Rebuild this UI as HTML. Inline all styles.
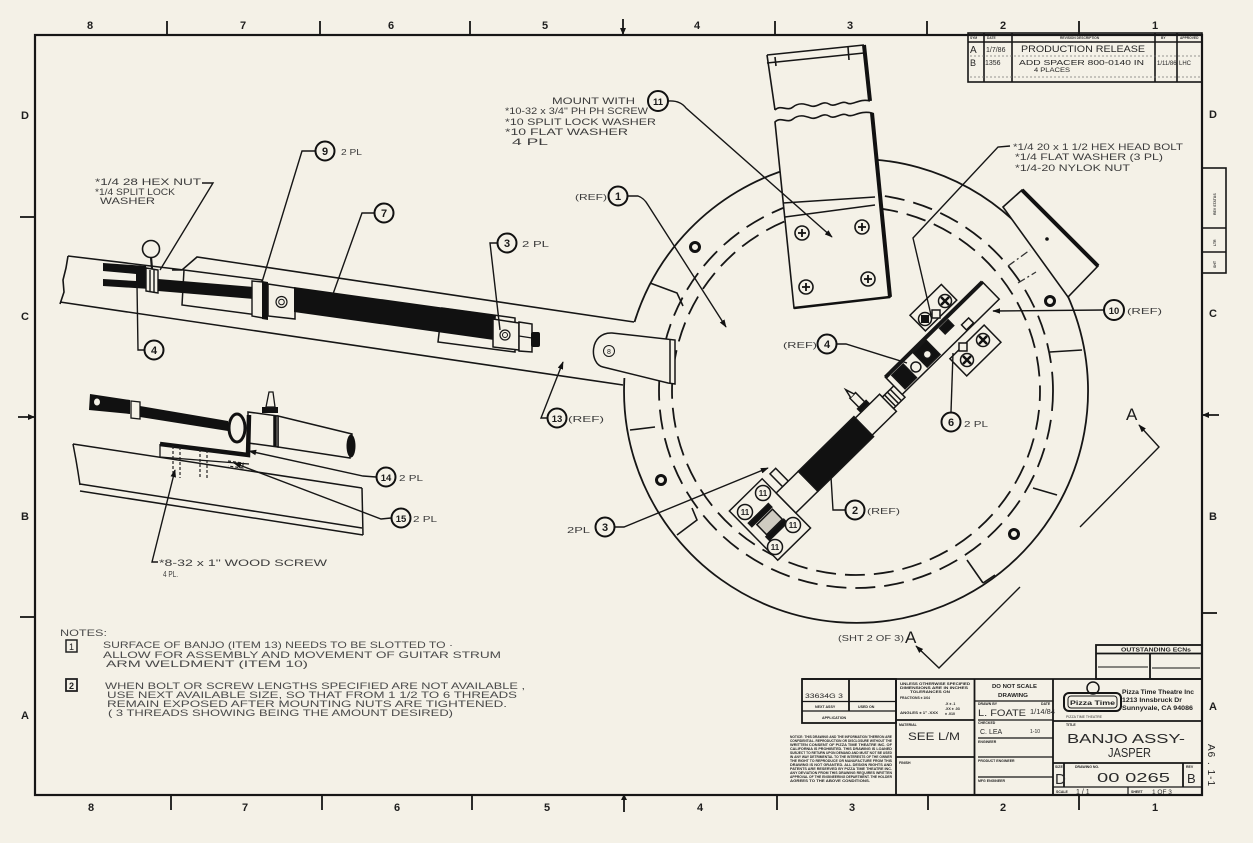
<!DOCTYPE html>
<html><head><meta charset="utf-8">
<style>
html,body{margin:0;padding:0;background:#f4f1e7;}
svg{display:block;}
text{font-family:"Liberation Sans",sans-serif;}
</style></head><body>
<svg width="1253" height="843" viewBox="0 0 1253 843" xmlns="http://www.w3.org/2000/svg">
<defs>
<marker id="ar" viewBox="0 0 10 10" refX="9" refY="5" markerUnits="userSpaceOnUse" markerWidth="8" markerHeight="8" orient="auto"><path d="M0,1.5 L10,5 L0,8.5 z" fill="#111"/></marker>
</defs>
<rect width="1253" height="843" fill="#f4f1e7"/>

<!-- border -->
<rect x="35" y="35" width="1167" height="760" fill="none" stroke="#161616" stroke-width="2.2"/>
<g stroke="#161616" stroke-width="1.8">
<line x1="167" y1="21" x2="167" y2="35"/><line x1="320" y1="21" x2="320" y2="35"/><line x1="470" y1="21" x2="470" y2="35"/>
<line x1="623" y1="19" x2="623" y2="35"/><line x1="775" y1="21" x2="775" y2="35"/><line x1="927" y1="21" x2="927" y2="35"/><line x1="1079" y1="21" x2="1079" y2="35"/>
<line x1="171" y1="795" x2="171" y2="810"/><line x1="322" y1="795" x2="322" y2="810"/><line x1="472" y1="795" x2="472" y2="810"/>
<line x1="624" y1="795" x2="624" y2="812"/><line x1="777" y1="795" x2="777" y2="810"/><line x1="928" y1="795" x2="928" y2="810"/><line x1="1079" y1="795" x2="1079" y2="810"/>
<line x1="20" y1="217" x2="35" y2="217"/><line x1="18" y1="417" x2="35" y2="417"/><line x1="20" y1="617" x2="35" y2="617"/>
<line x1="1202" y1="415" x2="1219" y2="415"/><line x1="1202" y1="613" x2="1217" y2="613"/>
</g>
<g fill="#161616">
<path d="M620,28 L626,28 L623,35 z"/><path d="M621,800 L627,800 L624,794 z"/>
<path d="M28,414 L35,417 L28,420 z"/><path d="M1209,412 L1202,415 L1209,418 z"/>
</g>
<g font-size="11" font-weight="bold" fill="#1e1e1e" text-anchor="middle">
<text x="90" y="29">8</text><text x="243" y="29">7</text><text x="391" y="29">6</text><text x="545" y="29">5</text>
<text x="697" y="29">4</text><text x="850" y="29">3</text><text x="1003" y="29">2</text><text x="1155" y="29">1</text>
<text x="91" y="811">8</text><text x="245" y="811">7</text><text x="397" y="811">6</text><text x="547" y="811">5</text>
<text x="700" y="811">4</text><text x="852" y="811">3</text><text x="1003" y="811">2</text><text x="1155" y="811">1</text>
<text x="25" y="119">D</text><text x="25" y="320">C</text><text x="25" y="520">B</text><text x="25" y="719">A</text>
<text x="1213" y="118">D</text><text x="1213" y="317">C</text><text x="1213" y="520">B</text><text x="1213" y="710">A</text>
</g>

<!-- right side small box -->
<g stroke="#161616" stroke-width="1.6" fill="none">
<rect x="1202" y="168" width="24" height="105"/>
<line x1="1202" y1="228" x2="1226" y2="228"/><line x1="1202" y1="252" x2="1226" y2="252"/>
</g>
<g font-size="3.5" font-weight="bold" fill="#333">
<text transform="translate(1216,215) rotate(-90)">REV STATUS</text>
<text transform="translate(1216,246) rotate(-90)">LTR</text>
<text transform="translate(1216,268) rotate(-90)">SHT</text>
</g>
<text transform="translate(1208,744) rotate(90)" font-size="10" fill="#222" letter-spacing="1">A6 . 1-1</text>

<!-- revision block -->
<g stroke="#161616" stroke-width="1.6" fill="none">
<rect x="968" y="33" width="234" height="49"/>
<line x1="968" y1="42" x2="1202" y2="42"/>
<line x1="984" y1="33" x2="984" y2="82"/><line x1="1012" y1="33" x2="1012" y2="82"/>
<line x1="1155" y1="33" x2="1155" y2="82"/><line x1="1177" y1="33" x2="1177" y2="82"/>
</g>
<g stroke="#777" stroke-width="0.7" stroke-dasharray="2 2">
<line x1="970" y1="56" x2="1200" y2="56"/><line x1="970" y1="77" x2="1200" y2="77"/>
</g>
<g font-size="3.3" font-weight="bold" fill="#333">
<text x="970" y="39">SYM</text><text x="987" y="39">DATE</text><text x="1060" y="39">REVISION DESCRIPTION</text><text x="1161" y="39">BY</text><text x="1180" y="39">APPROVED</text>
</g>
<g fill="#262626">
<text x="970" y="53" font-size="10">A</text>
<text x="986" y="52" font-size="7">1/7/86</text>
<text x="1021" y="52" font-size="9.5" textLength="124" lengthAdjust="spacingAndGlyphs">PRODUCTION RELEASE</text>
<text x="970" y="66" font-size="9">B</text>
<text x="985" y="65" font-size="7">1356</text>
<text x="1019" y="65" font-size="7.5" textLength="125" lengthAdjust="spacingAndGlyphs">ADD SPACER 800-0140 IN</text>
<text x="1034" y="72" font-size="6" textLength="36" lengthAdjust="spacingAndGlyphs">4 PLACES</text>
<text x="1157" y="65" font-size="6">1/11/86</text>
<text x="1179" y="65" font-size="6">LHC</text>
</g>

<!-- ================= UPPER LEFT ARM ASSEMBLY ================= -->
<g stroke="#161616" stroke-width="1.6" fill="none">
<path d="M68,256 L184,270"/>
<path d="M172,270 L182,270 L197,257 L634,322"/>
<path d="M68,256 L66,268 L63,280 L64,292 L60,304"/>
<path d="M60,302 L623,385"/>
</g>
<line x1="151" y1="257" x2="152" y2="269" stroke="#161616" stroke-width="2.2"/>
<circle cx="151" cy="249" r="8.5" fill="#f4f1e7" stroke="#161616" stroke-width="1.6"/>
<path d="M103,263 L146,266 L150,289 L103,286 L103,279 L136,281 L136,274 L103,271 Z" fill="#111"/>
<path d="M146,268 L158,270 L158,293 L146,291 Z" fill="#f4f1e7" stroke="#161616" stroke-width="1.4"/>
<line x1="150" y1="270" x2="150" y2="291" stroke="#161616" stroke-width="1.4"/>
<line x1="154" y1="270" x2="154" y2="292" stroke="#161616" stroke-width="1.4"/>
<path d="M184,270 L262,280 L258,315 L182,305 Z" fill="#f4f1e7" stroke="#161616" stroke-width="1.5"/>
<path d="M158,279 L254,287 L254,299 L158,291 Z" fill="#111"/>
<path d="M252,281 L263,282 L263,318 L252,316 Z" fill="#f4f1e7" stroke="#161616" stroke-width="1.4"/>
<path d="M262,281 L268,282 L268,320 L262,319 Z" fill="#111"/>
<path d="M268,284 L295,288 L295,319 L268,316 Z" fill="#f4f1e7" stroke="#161616" stroke-width="1.5"/>
<circle cx="281.5" cy="302" r="5.5" fill="none" stroke="#161616" stroke-width="1.2"/>
<circle cx="281.5" cy="302" r="2.8" fill="none" stroke="#161616" stroke-width="1"/>
<path d="M442,308 L515,318 L515,352 L438,342 Z" fill="#f4f1e7" stroke="#161616" stroke-width="1.5"/>
<path d="M294,287 L496,315 L494,340 L294,312 Z" fill="#111"/>
<path d="M493,319 L519,323 L519,350 L493,347 Z" fill="#f4f1e7" stroke="#161616" stroke-width="1.5"/>
<circle cx="505" cy="335" r="5" fill="none" stroke="#161616" stroke-width="1.2"/>
<circle cx="505" cy="335" r="2.5" fill="none" stroke="#161616" stroke-width="1"/>
<path d="M519,322 L532,324 L532,352 L519,351 Z" fill="#f4f1e7" stroke="#161616" stroke-width="1.5"/>
<line x1="519" y1="336" x2="532" y2="338" stroke="#161616" stroke-width="1.2"/>
<rect x="531" y="332" width="9" height="15" rx="2" fill="#111"/>

<!-- ================= LOWER LEFT VIEW ================= -->
<g stroke="#161616" stroke-width="1.5" fill="none">
<path d="M73,444 L362,488"/>
<path d="M73,444 L76,460 L78,472 L80,485"/>
<path d="M80,484 L362,528"/>
<path d="M80,491 L363,535"/>
<path d="M362,488 L363,535"/>
</g>
<path d="M90,394 L130,400 L130,414 L89,410 Z" fill="#111"/>
<ellipse cx="97" cy="402" rx="3" ry="3.5" fill="#f4f1e7"/>
<path d="M131,401 L140,402 L140,419 L131,418 Z" fill="#f4f1e7" stroke="#161616" stroke-width="1.3"/>
<path d="M140,406 L228,421 L228,431 L140,417 Z" fill="#111"/>
<path d="M278,416 L352,434 L350,458 L278,447 Z" fill="#f4f1e7" stroke="#161616" stroke-width="1.5"/>
<ellipse cx="351" cy="446" rx="4.5" ry="11.5" fill="#111"/>
<path d="M248,412 L278,416 L278,447 L248,443 Z" fill="#f4f1e7" stroke="#161616" stroke-width="1.5"/>
<line x1="275" y1="416" x2="275" y2="446" stroke="#111" stroke-width="3.5"/>
<ellipse cx="237" cy="428" rx="8" ry="14" fill="#f4f1e7" stroke="#111" stroke-width="3"/>
<rect x="262" y="407" width="16" height="6" fill="#111"/>
<path d="M266,407 L269,392 L273,392 L275,407 Z" fill="#f4f1e7" stroke="#161616" stroke-width="1.3"/>
<path d="M160,444 L160,457 L249,464" stroke="#161616" stroke-width="1.3" fill="none"/>
<path d="M160,444 L248,455 L249,415" stroke="#111" stroke-width="4.5" fill="none"/>
<g stroke="#222" stroke-width="1.2" stroke-dasharray="3 2" fill="none">
<path d="M173,446 L173,477 M180,447 L180,478"/>
<path d="M200,449 L200,479 M207,450 L207,480"/>
<path d="M228,461 L243,463 L243,468 L228,466"/>
</g>

<!-- ================= RING ================= -->
<path d="M634.5,322 A232,232 0 1 1 624.4,378" fill="none" stroke="#161616" stroke-width="1.8"/>
<circle cx="856" cy="391" r="197" fill="none" stroke="#161616" stroke-width="1.8" stroke-dasharray="20 9"/>
<circle cx="856" cy="391" r="184" fill="none" stroke="#161616" stroke-width="1.8" stroke-dasharray="20 9" stroke-dashoffset="10"/>
<g stroke="#161616" stroke-width="1.6" fill="none">
<path d="M650,283 L677,293 L683,306"/>
<path d="M630,430 L655,427"/>
<path d="M677,535 L697,520 L692,508"/>
<path d="M967,560 L983,583"/>
<path d="M983,583 L995,575"/>
<path d="M1033,488 L1057,495"/>
<path d="M1050,352 L1082,350"/>
</g>
<g fill="none" stroke="#111" stroke-width="3">
<circle cx="695" cy="247" r="4.5"/><circle cx="661" cy="480" r="4.5"/>
<circle cx="1014" cy="534" r="4.5"/><circle cx="1050" cy="301" r="4.5"/>
</g>

<!-- neck end / tab -->
<path d="M612,333 L675,340 L675,384 L668,383 L603,367 C589,364 589,332 612,333 Z" fill="#f4f1e7" stroke="#161616" stroke-width="1.5"/>
<line x1="670" y1="339" x2="670" y2="383" stroke="#161616" stroke-width="1.5"/>
<circle cx="609" cy="351" r="5.5" fill="none" stroke="#161616" stroke-width="1"/>
<text x="609" y="354" font-size="7" text-anchor="middle" fill="#222">8</text>

<!-- top bracket (plate) -->
<g stroke="#161616" stroke-width="1.6" fill="none">
<path d="M767,55 L864,45"/>
<path d="M767,63 L864,53"/>
<path d="M767,55 L775,110"/>
<path d="M775,110 C781,104 787,112 793,107 S805,104 811,106 S823,100 829,104 S841,100 847,103 S859,98 870,101"/>
<line x1="775" y1="57" x2="776" y2="66"/><line x1="848" y1="47" x2="849" y2="60"/>
</g>
<line x1="864" y1="45" x2="870" y2="101" stroke="#111" stroke-width="4"/>
<path d="M775,122 C781,116 787,124 793,119 S805,116 811,118 S823,112 829,116 S841,112 847,115 S859,110 872,113 L890,297 L794,308 Z" fill="#f4f1e7" stroke="#161616" stroke-width="1.6"/>
<line x1="872" y1="113" x2="890" y2="297" stroke="#111" stroke-width="4"/>
<line x1="794" y1="308" x2="890" y2="297" stroke="#111" stroke-width="2.5"/>
<line x1="783" y1="203" x2="875" y2="197" stroke="#161616" stroke-width="1.6"/>
<line x1="785" y1="217" x2="875" y2="205" stroke="#161616" stroke-width="1.6"/>
<g fill="#f4f1e7" stroke="#161616" stroke-width="1.6">
<circle cx="802" cy="233" r="7"/><circle cx="862" cy="227" r="7"/><circle cx="806" cy="287" r="7"/><circle cx="868" cy="279" r="7"/>
</g>
<g stroke="#111" stroke-width="1.8">
<path d="M802,229 V237 M798,233 H806"/><path d="M862,223 V231 M858,227 H866"/>
<path d="M806,283 V291 M802,287 H810"/><path d="M868,275 V283 M864,279 H872"/>
</g>

<!-- top-right flap -->
<path d="M1003,207 L1022,190 L1098,266 L1068,297 Z" fill="#f4f1e7" stroke="#161616" stroke-width="1.6"/>
<line x1="1022" y1="190" x2="1098" y2="266" stroke="#111" stroke-width="4"/>
<g stroke="#333" stroke-width="1.3" stroke-dasharray="8 3 2 3" fill="none">
<path d="M1008,266 L1030,250"/><path d="M1018,283 L1036,272"/>
</g>
<circle cx="1047" cy="239" r="1.8" fill="#111"/>

<!-- ================= STRUM ASSEMBLY ================= -->
<g transform="translate(786,503) rotate(-44.5)" stroke="#161616" stroke-width="1.5">
<rect x="-46" y="-34" width="46" height="69" fill="#f4f1e7"/>
<rect x="-36" y="-5" width="22" height="14" fill="#cfcbc1"/>
<rect x="-41" y="-12" width="28" height="5" fill="#111"/>
<rect x="-38" y="10" width="25" height="5" fill="#111"/>
<rect x="9" y="-32" width="8" height="18" fill="#f4f1e7"/>
<rect x="0" y="-14" width="31" height="28" fill="#f4f1e7"/>
<rect x="31" y="-14" width="78" height="28" fill="#111"/>
<rect x="119" y="-30" width="8" height="16" fill="#f4f1e7"/>
<path d="M120,-30 L122,-39 L125,-30" fill="#f4f1e7"/>
<rect x="117" y="-17" width="12" height="4" fill="#111"/>
<rect x="109" y="-12" width="34" height="24" fill="#f4f1e7"/>
<rect x="143" y="-8" width="16" height="16" fill="#f4f1e7"/>
<path d="M146,-8 V8 M150,-8 V8 M154,-8 V8" fill="none"/>
<rect x="220" y="-47" width="44" height="22" fill="#f4f1e7"/>
<rect x="218" y="12" width="48" height="24" fill="#f4f1e7"/>
<rect x="159" y="-20" width="136" height="24" fill="#f4f1e7"/>
<rect x="165" y="-17" width="16" height="19" fill="#111"/>
<circle cx="188" cy="-6" r="5" fill="#f4f1e7"/>
<rect x="196" y="-18" width="18" height="20" fill="#111"/>
<circle cx="205" cy="-7" r="4" fill="#f4f1e7"/>
<rect x="232" y="-17" width="12" height="8" fill="#111"/>
<rect x="250" y="-4" width="10" height="7" fill="#f4f1e7"/>
<line x1="159" y1="-20" x2="295" y2="-20" stroke-width="4"/>
</g>
<g fill="#f4f1e7" stroke="#161616" stroke-width="1.5">
<circle cx="945" cy="301" r="6.5"/><circle cx="925" cy="319" r="6.5"/>
<circle cx="983" cy="340" r="6.5"/><circle cx="967" cy="360" r="6.5"/>
<rect x="932" y="310" width="8" height="8"/><rect x="959" y="343" width="8" height="8"/>
</g>
<g stroke="#111" stroke-width="2.5">
<path d="M941,297 L949,305 M949,297 L941,305"/>
<path d="M979,336 L987,344 M987,336 L979,344"/>
<path d="M963,356 L971,364 M971,356 L963,364"/>
</g>
<rect x="921" y="315" width="8" height="8" fill="#111"/>
<g fill="#f4f1e7" stroke="#161616" stroke-width="1.5">
<circle cx="763" cy="493" r="7.5"/><circle cx="745" cy="512" r="7.5"/><circle cx="793" cy="525" r="7.5"/><circle cx="775" cy="547" r="7.5"/>
</g>
<g font-size="8" font-weight="bold" fill="#222" text-anchor="middle">
<text x="763" y="496">11</text><text x="745" y="515">11</text><text x="793" y="528">11</text><text x="775" y="550">11</text>
</g>

<!-- ================= LEADERS ================= -->
<g stroke="#161616" stroke-width="1.4" fill="none">
<path d="M315,151 L302,151 L262,282"/>
<path d="M374,213 L362,213 L333,294"/>
<path d="M497,243 L490,243 L500,330"/>
<path d="M144,350 L138,350 L137,285"/>
<path d="M202,183 L213,183 L160,270"/>
<path d="M628,196 L638,196 Q644,198 648,205 L726,327" marker-end="url(#ar)"/>
<path d="M547,418 L541,418 L563,362" marker-end="url(#ar)"/>
<path d="M376,477 L363,476 L249,451" marker-end="url(#ar)"/>
<path d="M391,518 L381,519 L234,463" marker-end="url(#ar)"/>
<path d="M158,562 L152,562 L175,470" marker-end="url(#ar)"/>
<path d="M668,101 Q680,100 686,108 L832,237" marker-end="url(#ar)"/>
<path d="M1010,146 L998,147 L913,238 L931,315"/>
<path d="M1104,310 L993,311" marker-end="url(#ar)"/>
<path d="M836,344 L846,344 L907,363"/>
<path d="M951,412 L953,353"/>
<path d="M845,510 L833,510 L831,477"/>
<path d="M615,527 L624,527 L768,468" marker-end="url(#ar)"/>
<path d="M1080,527 L1159,447 L1139,425" marker-end="url(#ar)"/>
<path d="M1020,587 L939,668 L916,646" marker-end="url(#ar)"/>
</g>

<g fill="#f4f1e7" stroke="#111" stroke-width="2">
<circle cx="325" cy="151" r="9.5"/><circle cx="384" cy="213" r="9.5"/><circle cx="507" cy="243" r="9.5"/>
<circle cx="154" cy="350" r="9.5"/><circle cx="618" cy="196" r="9.5"/><circle cx="557" cy="418" r="9.5"/>
<circle cx="386" cy="477" r="9.5"/><circle cx="401" cy="518" r="9.5"/><circle cx="658" cy="101" r="10"/>
<circle cx="1114" cy="310" r="10"/><circle cx="827" cy="344" r="9.5"/><circle cx="951" cy="422" r="9.5"/>
<circle cx="855" cy="510" r="9.5"/><circle cx="605" cy="527" r="9.5"/>
</g>
<g font-size="11" font-weight="bold" fill="#1a1a1a" text-anchor="middle">
<text x="325" y="155">9</text><text x="384" y="217">7</text><text x="507" y="247">3</text>
<text x="154" y="354">4</text><text x="618" y="200">1</text><text x="557" y="422" font-size="9.5">13</text>
<text x="386" y="481" font-size="9.5">14</text><text x="401" y="522" font-size="9.5">15</text><text x="658" y="105" font-size="9.5">11</text>
<text x="1114" y="314" font-size="9.5">10</text><text x="827" y="348">4</text><text x="951" y="426">6</text>
<text x="855" y="514">2</text><text x="605" y="531">3</text>
</g>

<g fill="#3c3c3c" font-size="9">
<text x="95" y="185" textLength="106" lengthAdjust="spacingAndGlyphs">*1/4 28 HEX NUT</text>
<text x="95" y="195" textLength="80" lengthAdjust="spacingAndGlyphs">*1/4 SPLIT LOCK</text>
<text x="100" y="204" textLength="55" lengthAdjust="spacingAndGlyphs">WASHER</text>
<text x="341" y="155" font-size="8" textLength="21" lengthAdjust="spacingAndGlyphs">2 PL</text>
<text x="522" y="247" font-size="8" textLength="27" lengthAdjust="spacingAndGlyphs">2 PL</text>
<text x="568" y="422" font-size="8" textLength="36" lengthAdjust="spacingAndGlyphs">(REF)</text>
<text x="399" y="481" font-size="8" textLength="24" lengthAdjust="spacingAndGlyphs">2 PL</text>
<text x="413" y="522" font-size="8" textLength="24" lengthAdjust="spacingAndGlyphs">2 PL</text>
<text x="159" y="566" textLength="168" lengthAdjust="spacingAndGlyphs">*8-32 x 1" WOOD SCREW</text>
<text x="163" y="577" font-size="8" textLength="15" lengthAdjust="spacingAndGlyphs">4 PL.</text>
<text x="552" y="104" textLength="83" lengthAdjust="spacingAndGlyphs">MOUNT WITH</text>
<text x="505" y="114" textLength="143" lengthAdjust="spacingAndGlyphs">*10-32 x 3/4" PH PH SCREW</text>
<text x="505" y="125" textLength="151" lengthAdjust="spacingAndGlyphs">*10 SPLIT LOCK WASHER</text>
<text x="505" y="135" textLength="123" lengthAdjust="spacingAndGlyphs">*10 FLAT WASHER</text>
<text x="512" y="145" textLength="36" lengthAdjust="spacingAndGlyphs">4 PL</text>
<text x="575" y="200" font-size="8.5" textLength="32" lengthAdjust="spacingAndGlyphs">(REF)</text>
<text x="1013" y="150" textLength="170" lengthAdjust="spacingAndGlyphs">*1/4 20 x 1 1/2 HEX HEAD BOLT</text>
<text x="1015" y="160" textLength="148" lengthAdjust="spacingAndGlyphs">*1/4 FLAT WASHER (3 PL)</text>
<text x="1015" y="171" textLength="115" lengthAdjust="spacingAndGlyphs">*1/4-20 NYLOK NUT</text>
<text x="1127" y="314" font-size="8.5" textLength="35" lengthAdjust="spacingAndGlyphs">(REF)</text>
<text x="783" y="348" font-size="8.5" textLength="34" lengthAdjust="spacingAndGlyphs">(REF)</text>
<text x="964" y="427" font-size="8" textLength="24" lengthAdjust="spacingAndGlyphs">2 PL</text>
<text x="867" y="514" font-size="8.5" textLength="33" lengthAdjust="spacingAndGlyphs">(REF)</text>
<text x="567" y="533" font-size="8" textLength="23" lengthAdjust="spacingAndGlyphs">2PL</text>
<text x="838" y="641" font-size="8.5" textLength="66" lengthAdjust="spacingAndGlyphs">(SHT 2 OF 3)</text>
</g>
<text x="905" y="643" font-size="17" fill="#1a1a1a">A</text>
<text x="1126" y="420" font-size="17" fill="#1a1a1a">A</text>

<!-- notes -->
<g fill="#4a4a4a" font-size="9.5">
<text x="60" y="636" textLength="47" lengthAdjust="spacingAndGlyphs">NOTES:</text>
<text x="103" y="648" textLength="350" lengthAdjust="spacingAndGlyphs">SURFACE OF BANJO (ITEM 13) NEEDS TO BE SLOTTED TO ·</text>
<text x="103" y="658" textLength="398" lengthAdjust="spacingAndGlyphs">ALLOW FOR ASSEMBLY AND MOVEMENT OF GUITAR STRUM</text>
<text x="106" y="667" textLength="202" lengthAdjust="spacingAndGlyphs">ARM WELDMENT (ITEM 10)</text>
<text x="105" y="689" textLength="420" lengthAdjust="spacingAndGlyphs">WHEN BOLT OR SCREW LENGTHS SPECIFIED ARE NOT AVAILABLE ,</text>
<text x="107" y="698" textLength="410" lengthAdjust="spacingAndGlyphs">USE NEXT AVAILABLE SIZE, SO THAT FROM 1 1/2 TO 6 THREADS</text>
<text x="107" y="707" textLength="400" lengthAdjust="spacingAndGlyphs">REMAIN EXPOSED AFTER MOUNTING NUTS ARE TIGHTENED.</text>
<text x="108" y="716" textLength="345" lengthAdjust="spacingAndGlyphs">( 3 THREADS SHOWING BEING THE AMOUNT DESIRED)</text>
</g>
<rect x="66" y="640" width="11" height="12" fill="none" stroke="#222" stroke-width="1.5"/>
<text x="71.5" y="650" font-size="9" text-anchor="middle" fill="#222">1</text>
<rect x="66" y="679" width="11" height="12" fill="none" stroke="#222" stroke-width="1.8"/>
<text x="71.5" y="689" font-size="9" font-weight="bold" text-anchor="middle" fill="#222">2</text>

<!-- ================= TITLE BLOCK ================= -->
<g stroke="#161616" stroke-width="1.8" fill="none">
<rect x="1096" y="645" width="106" height="34"/>
<line x1="1096" y1="653.5" x2="1202" y2="653.5"/>
<line x1="1150" y1="653.5" x2="1150" y2="679"/>
<line x1="1098" y1="667" x2="1148" y2="667" stroke-width="1"/>
<line x1="1152" y1="668" x2="1200" y2="668" stroke-width="1"/>
<line x1="802" y1="679" x2="1202" y2="679"/>
<rect x="802" y="679" width="94" height="44"/>
<line x1="849" y1="679" x2="849" y2="711"/>
<line x1="802" y1="701.5" x2="896" y2="701.5" stroke-width="1.2"/>
<line x1="802" y1="711" x2="896" y2="711" stroke-width="1.2"/>
<line x1="896" y1="679" x2="896" y2="795"/>
<line x1="974.5" y1="679" x2="974.5" y2="795"/>
<line x1="1053" y1="679" x2="1053" y2="795"/>
<line x1="896" y1="720" x2="974.5" y2="720"/>
<line x1="896" y1="757" x2="974.5" y2="757"/>
<line x1="974.5" y1="701" x2="1053" y2="701" stroke-width="1.2"/>
<line x1="978" y1="720" x2="1053" y2="720" stroke-width="1.2"/>
<line x1="978" y1="738" x2="1053" y2="738" stroke-width="1.2"/>
<line x1="978" y1="757" x2="1053" y2="757" stroke-width="1.2"/>
<line x1="978" y1="777" x2="1053" y2="777" stroke-width="1.2"/>
<line x1="1053" y1="721" x2="1202" y2="721"/>
<line x1="1053" y1="763" x2="1202" y2="763"/>
<line x1="1053" y1="787" x2="1202" y2="787" stroke-width="1.2"/>
<line x1="1064" y1="763" x2="1064" y2="787"/>
<line x1="1183" y1="763" x2="1183" y2="787"/>
<line x1="1128" y1="787" x2="1128" y2="795" stroke-width="1.2"/>
</g>
<g font-weight="bold" fill="#222">
<text x="1121" y="651.5" font-size="5" textLength="70" lengthAdjust="spacingAndGlyphs">OUTSTANDING ECNs</text>
<text x="805" y="698" font-size="6.5" font-weight="normal" textLength="38" lengthAdjust="spacingAndGlyphs">33634G 3</text>
<text x="815" y="708" font-size="3.6">NEXT ASSY</text>
<text x="858" y="708" font-size="3.6">USED ON</text>
<text x="822" y="719" font-size="3.6">APPLICATION</text>
<text x="900" y="685" font-size="3.6" textLength="70" lengthAdjust="spacingAndGlyphs">UNLESS OTHERWISE SPECIFIED</text>
<text x="900" y="689" font-size="3.6" textLength="68" lengthAdjust="spacingAndGlyphs">DIMENSIONS ARE IN INCHES</text>
<text x="910" y="693" font-size="3.6" textLength="40" lengthAdjust="spacingAndGlyphs">TOLERANCES ON</text>
<text x="900" y="699" font-size="3.6" textLength="30" lengthAdjust="spacingAndGlyphs">FRACTIONS ± 1/64</text>
<text x="945" y="705" font-size="3.6">.X ± .1</text>
<text x="945" y="710" font-size="3.6">.XX ± .03</text>
<text x="900" y="714" font-size="3.6" textLength="38" lengthAdjust="spacingAndGlyphs">ANGLES ± 1° .XXX</text>
<text x="945" y="715" font-size="3.6">± .010</text>
<text x="899" y="726" font-size="3.5">MATERIAL</text>
<text x="899" y="764" font-size="3.5">FINISH</text>
<text x="992" y="688" font-size="5.5" textLength="45" lengthAdjust="spacingAndGlyphs">DO NOT SCALE</text>
<text x="998" y="697" font-size="5.5" textLength="30" lengthAdjust="spacingAndGlyphs">DRAWING</text>
<text x="978" y="705" font-size="3.5">DRAWN BY</text><text x="1041" y="705" font-size="3.5">DATE</text>
<text x="978" y="724" font-size="3.5">CHECKED</text>
<text x="978" y="743" font-size="3.5">ENGINEER</text>
<text x="978" y="762" font-size="3.5">PRODUCT ENGINEER</text>
<text x="978" y="782" font-size="3.5">MFG ENGINEER</text>
<text x="1066" y="726" font-size="3.5">TITLE</text>
<text x="1055" y="768" font-size="3.5">SIZE</text>
<text x="1075" y="768" font-size="3.5">DRAWING NO.</text>
<text x="1186" y="768" font-size="3.5">REV</text>
<text x="1056" y="793" font-size="3.5">SCALE</text>
<text x="1131" y="793" font-size="3.5">SHEET</text>
</g>
<g fill="#2a2a2a">
<text x="908" y="740" font-size="11" textLength="52" lengthAdjust="spacingAndGlyphs">SEE L/M</text>
<text x="978" y="716" font-size="9" textLength="48" lengthAdjust="spacingAndGlyphs">L. FOATE</text>
<text x="1030" y="714" font-size="7.5">1/14/84</text>
<text x="980" y="734" font-size="7">C. LEA</text>
<text x="1030" y="733" font-size="5">1-10</text>
<text x="1067" y="743" font-size="13" textLength="118" lengthAdjust="spacingAndGlyphs">BANJO ASSY-</text>
<text x="1108" y="757" font-size="13" textLength="43" lengthAdjust="spacingAndGlyphs">JASPER</text>
<text x="1055" y="784" font-size="15" font-family="Liberation Serif, serif">D</text>
<text x="1097" y="782" font-size="13" textLength="73" lengthAdjust="spacingAndGlyphs">00 0265</text>
<text x="1187" y="783" font-size="13">B</text>
<text x="1076" y="794" font-size="7">1 / 1</text>
<text x="1152" y="794" font-size="6.5">1  OF  3</text>
</g>
<g stroke="#161616" fill="none">
<rect x="1064" y="693" width="57" height="18" rx="5" stroke-width="2"/>
<rect x="1068" y="696" width="49" height="12" rx="3" stroke-width="1"/>
<circle cx="1093" cy="688" r="6" stroke-width="1.5"/>
</g>
<text x="1070" y="705" font-size="6" font-weight="bold" fill="#222" textLength="45" lengthAdjust="spacingAndGlyphs">Pizza Time</text>
<text x="1066" y="718" font-size="3.5" fill="#333">PIZZA TIME THEATRE</text>
<g font-family="Liberation Serif, serif" font-weight="bold" fill="#222" font-size="6">
<text x="1122" y="694" textLength="72" lengthAdjust="spacingAndGlyphs">Pizza Time Theatre Inc</text>
<text x="1122" y="702" textLength="60" lengthAdjust="spacingAndGlyphs">1213 Innsbruck Dr</text>
<text x="1122" y="710" textLength="71" lengthAdjust="spacingAndGlyphs">Sunnyvale, CA 94086</text>
</g>
<g font-size="3.8" font-weight="bold" fill="#222">
<text x="790" y="738" textLength="102" lengthAdjust="spacingAndGlyphs">NOTICE: THIS DRAWING AND THE INFORMATION THEREON ARE</text>
<text x="790" y="742" textLength="102" lengthAdjust="spacingAndGlyphs">CONFIDENTIAL. REPRODUCTION OR DISCLOSURE WITHOUT THE</text>
<text x="790" y="746" textLength="102" lengthAdjust="spacingAndGlyphs">WRITTEN CONSENT OF PIZZA TIME THEATRE INC. OF</text>
<text x="790" y="750" textLength="102" lengthAdjust="spacingAndGlyphs">CALIFORNIA IS PROHIBITED. THIS DRAWING IS LOANED</text>
<text x="790" y="754" textLength="102" lengthAdjust="spacingAndGlyphs">SUBJECT TO RETURN UPON DEMAND AND MUST NOT BE USED</text>
<text x="790" y="758" textLength="102" lengthAdjust="spacingAndGlyphs">IN ANY WAY DETRIMENTAL TO THE INTERESTS OF THE OWNER</text>
<text x="790" y="762" textLength="102" lengthAdjust="spacingAndGlyphs">THE RIGHT TO REPRODUCE OR MANUFACTURE FROM THIS</text>
<text x="790" y="766" textLength="102" lengthAdjust="spacingAndGlyphs">DRAWING IS NOT GRANTED. ALL DESIGN RIGHTS AND</text>
<text x="790" y="770" textLength="102" lengthAdjust="spacingAndGlyphs">PATENTS ARE RESERVED BY PIZZA TIME THEATRE INC.</text>
<text x="790" y="774" textLength="102" lengthAdjust="spacingAndGlyphs">ANY DEVIATION FROM THIS DRAWING REQUIRES WRITTEN</text>
<text x="790" y="778" textLength="102" lengthAdjust="spacingAndGlyphs">APPROVAL OF THE ENGINEERING DEPARTMENT. THE HOLDER</text>
<text x="790" y="782" textLength="80" lengthAdjust="spacingAndGlyphs">AGREES TO THE ABOVE CONDITIONS.</text>
</g>
</svg>
</body></html>
